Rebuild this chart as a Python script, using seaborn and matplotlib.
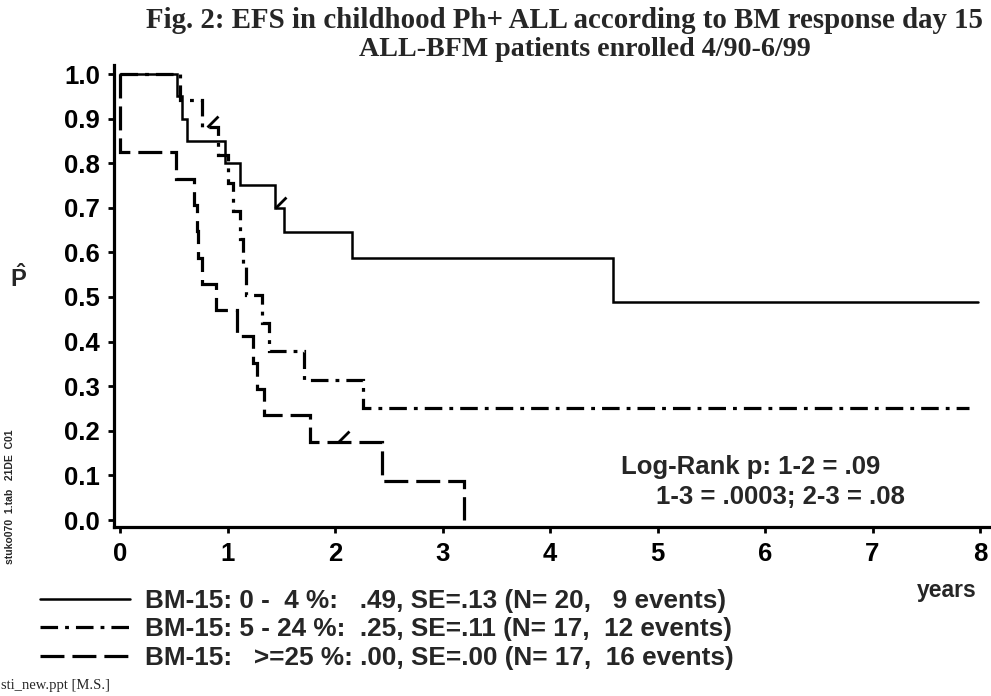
import matplotlib
matplotlib.use("Agg")
import matplotlib.pyplot as plt
import seaborn as sns
import pandas as pd
import numpy as np
from matplotlib.path import Path

# ---- data ----
t_grp1 = [0.0, 0.53, 0.58, 0.62, 0.98, 1.12, 1.44, 1.53, 2.16, 4.59, 7.98]
s_grp1 = [1.0, 0.95, 0.90, 0.85, 0.80, 0.75, 0.70, 0.646, 0.587, 0.489, 0.489]

t_grp2 = [0.0, 0.56, 0.76, 0.91, 1.00, 1.05, 1.12, 1.14, 1.17, 1.32, 1.39, 1.71, 2.26, 7.90]
s_grp2 = [1.0, 0.941, 0.882, 0.819, 0.756, 0.693, 0.630, 0.567, 0.504, 0.441, 0.378, 0.315, 0.252, 0.252]

t_grp3 = [0.0, 0.0, 0.52, 0.69, 0.72, 0.73, 0.76, 0.89, 1.09, 1.24, 1.27, 1.34, 1.77, 2.44, 3.20]
s_grp3 = [1.0, 0.824, 0.765, 0.706, 0.647, 0.588, 0.529, 0.471, 0.412, 0.353, 0.294, 0.235, 0.176, 0.088, 0.0]

cens_t = [1.44, 0.81, 2.03]
cens_s = [0.70, 0.882, 0.176]

labels = [
    "BM-15: 0 -  4 %:   .49, SE=.13 (N= 20,   9 events)",
    "BM-15: 5 - 24 %:  .25, SE=.11 (N= 17,  12 events)",
    "BM-15:   >=25 %: .00, SE=.00 (N= 17,  16 events)",
]
x_ticks = [0, 1, 2, 3, 4, 5, 6, 7, 8]
y_ticks = [0.0, 0.1, 0.2, 0.3, 0.4, 0.5, 0.6, 0.7, 0.8, 0.9, 1.0]

sns.set_style("ticks")
plt.rcParams["font.family"] = ["Liberation Sans", "DejaVu Sans"]
plt.rcParams["mathtext.fontset"] = "custom"
plt.rcParams["mathtext.bf"] = "Liberation Sans:bold"
plt.rcParams["mathtext.rm"] = "Liberation Sans:bold"
plt.rcParams["mathtext.it"] = "Liberation Sans:bold"

fig = plt.figure(figsize=(9.91, 6.96), dpi=100)
ax = fig.add_axes([114 / 991, 1 - 527 / 696, 1 - 114 / 991, (527 - 65) / 696])

d1 = pd.DataFrame({"t": t_grp1, "s": s_grp1})
d2 = pd.DataFrame({"t": t_grp2, "s": s_grp2})
d3 = pd.DataFrame({"t": t_grp3, "s": s_grp3})

sns.lineplot(data=d1, x="t", y="s", ax=ax, sort=False, estimator=None,
             drawstyle="steps-post", color="black", lw=1.8, linestyle="-")
sns.lineplot(data=d2, x="t", y="s", ax=ax, sort=False, estimator=None,
             drawstyle="steps-post", color="black", lw=2.3, dashes=False)
sns.lineplot(data=d3, x="t", y="s", ax=ax, sort=False, estimator=None,
             drawstyle="steps-post", color="black", lw=2.3, dashes=False)
lines = ax.get_lines()
lines[1].set_dashes((5.5, 2.2, 1.2, 2.2))
lines[2].set_dashes((7.5, 2.5))
for ln in lines:
    ln.set_solid_joinstyle("miter")
    ln.set_dash_joinstyle("miter")
    ln.set_dash_capstyle("butt")

# censor ticks
slash = Path([(0, 0), (1, 1)], [Path.MOVETO, Path.LINETO])
dc = pd.DataFrame({"t": cens_t, "s": cens_s})
sns.scatterplot(data=dc, x="t", y="s", ax=ax, marker=slash, s=250,
                color="black", linewidth=2.0, edgecolor="black", zorder=5)

ax.set_xlim((114 - 120) / 107.5, (991 - 120) / 107.5)
ax.set_ylim((520 - 527) / 446, (520 - 65) / 446)
ax.set_xticks(x_ticks)
ax.set_yticks(y_ticks)
ax.set_xticklabels([str(v) for v in x_ticks])
ax.set_yticklabels([f"{v:.1f}" for v in y_ticks])
for sp in ["top", "right"]:
    ax.spines[sp].set_visible(False)
for sp in ["left", "bottom"]:
    ax.spines[sp].set_linewidth(2.3)
    ax.spines[sp].set_color("black")
ax.tick_params(axis="both", colors="black", width=2.0, length=4,
               labelsize=18.5, direction="out")
ax.tick_params(axis="x", pad=7)
ax.tick_params(axis="y", pad=6)
for lab in ax.get_xticklabels() + ax.get_yticklabels():
    lab.set_fontweight("bold")
ax.set_xlabel("")
ax.set_ylabel("")
ax.patch.set_alpha(0)

# axis labels
fig.text(18 / 991, 1 - 278 / 696, r"$\hat{\mathbf{P}}$", fontsize=17,
         ha="center", va="center", fontweight="bold")
fig.text(947 / 991, 1 - 590 / 696, "years", fontsize=16.5, ha="center",
         va="center", fontweight="bold")

# title
fig.text(565 / 991, 1 - 20 / 696,
         "Fig. 2: EFS in childhood Ph+ ALL according to BM response day 15",
         family="Liberation Serif", fontweight="bold", fontsize=20.8,
         ha="center", va="center")
fig.text(585 / 991, 1 - 49 / 696, "ALL-BFM patients enrolled 4/90-6/99",
         family="Liberation Serif", fontweight="bold", fontsize=20.2,
         ha="center", va="center")

# log-rank annotation
fig.text(880 / 991, 1 - 467 / 696, "Log-Rank p: 1-2 = .09", fontsize=18.5,
         ha="right", va="center", fontweight="bold")
fig.text(905 / 991, 1 - 497 / 696, "1-3 = .0003; 2-3 = .08", fontsize=18.5,
         ha="right", va="center", fontweight="bold")

# legend
fs = 18.8
fs_px = fs * 100 / 72
leg = ax.legend(handles=lines[:3], labels=labels, loc="upper left",
                bbox_to_anchor=(40 / 991, 1 - 589 / 696),
                bbox_transform=fig.transFigure, frameon=False,
                fontsize=fs, handlelength=90 / fs_px, handletextpad=15 / fs_px,
                borderpad=0, borderaxespad=0, labelspacing=0.17)
for txt in leg.get_texts():
    txt.set_fontweight("bold")

# small annotations
fig.text(1 / 991, 1 - 686 / 696, "sti_new.ppt [M.S.]", family="Liberation Serif",
         fontsize=10.5, ha="left", va="center")
fig.text(10 / 991, 1 - 497 / 696, "stuko070  1.tab   21DE  C01", fontsize=7.5,
         rotation=90, ha="center", va="center", fontweight="bold")

fig.savefig("out.png", dpi=100)
